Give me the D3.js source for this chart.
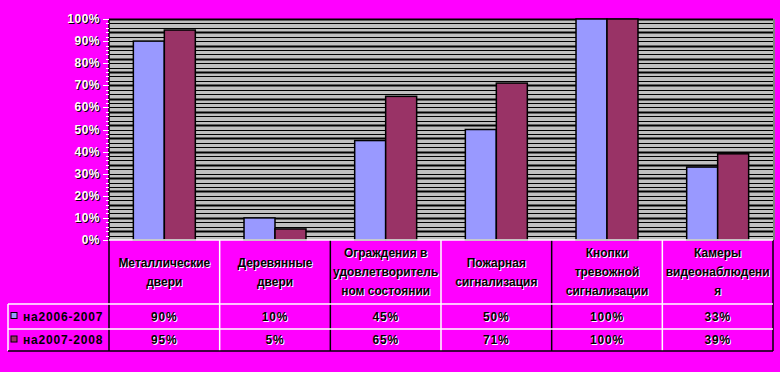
<!DOCTYPE html>
<html lang="ru">
<head>
<meta charset="UTF-8">
<title>Безопасность</title>
<script src="https://cdn.jsdelivr.net/npm/d3@7"></script>
<style>
  body { margin: 0; background: #ff00ff; }
  #chart text { font-family: "Liberation Sans", Arial, sans-serif; font-weight: bold; font-size: 12px; }
</style>
</head>
<body>
<div id="chart"></div>
<script>
// data
var categories = [
  ["Металлические", "двери"],
  ["Деревянные", "двери"],
  ["Ограждения в", "удовлетворитель", "ном состоянии"],
  ["Пожарная", "сигнализация"],
  ["Кнопки", "тревожной", "сигнализации"],
  ["Камеры", "видеонаблюдени", "я"]
];
var seriesNames = ["на2006-2007", "на2007-2008"];
var s2006 = [90, 10, 45, 50, 100, 33];
var s2007 = [95, 5, 65, 71, 100, 39];
var yTicks = [0, 10, 20, 30, 40, 50, 60, 70, 80, 90, 100];
var colors = ["#9999ff", "#993366"];

var W = 780, H = 372;
var plotL = 109, plotR = 773, plotT = 19, plotB = 240;
var rowY = [240, 304, 329, 351];

var svg = d3.select("#chart").append("svg").attr("width", W).attr("height", H);
svg.append("rect").attr("width", W).attr("height", H).attr("fill", "#ff00ff");

var x = d3.scaleBand().domain(d3.range(categories.length)).range([plotL, plotR]);
var y = d3.scaleLinear().domain([0, 100]).range([plotB, plotT]);

// plot area
svg.append("rect").attr("x", plotL).attr("y", plotT).attr("width", plotR - plotL).attr("height", plotB - plotT)
  .attr("fill", "#c0c0c0");
svg.append("line").attr("x1", plotR + 1).attr("x2", plotR + 1).attr("y1", plotT).attr("y2", plotB)
  .attr("stroke", "#808080").attr("stroke-width", 2);

// dense gridlines every 2%
var minor = d3.range(2, 101, 2);
svg.selectAll(".grid").data(minor).enter().append("line")
  .attr("x1", plotL).attr("x2", plotR)
  .attr("y1", function(d) { return Math.round(y(d)) + 0.5; })
  .attr("y2", function(d) { return Math.round(y(d)) + 0.5; })
  .attr("stroke", "#000")
  .attr("stroke-width", function(d, i) { return i % 3 == 1 ? 2 : 1; });

// bars
var bw = x.bandwidth() * 0.28;
var series = [s2006, s2007];
series.forEach(function(s, k) {
  svg.selectAll(".bar" + k).data(s).enter().append("rect")
    .attr("x", function(d, i) { return x(i) + x.bandwidth() / 2 - bw + k * bw; })
    .attr("y", function(d) { return y(d); })
    .attr("width", bw)
    .attr("height", function(d) { return plotB - y(d); })
    .attr("fill", colors[k])
    .attr("stroke", "#000")
    .attr("stroke-width", 1.5);
});

// y axis
var yAxis = svg.append("g").attr("transform", "translate(" + plotL + ",0)");
yAxis.append("line").attr("x1", 0).attr("x2", 0).attr("y1", plotT).attr("y2", plotB)
  .attr("stroke", "#000").attr("stroke-width", 1.5);
yAxis.selectAll(".mt").data(minor).enter().append("line")
  .attr("x1", -3).attr("x2", 0)
  .attr("y1", function(d) { return Math.round(y(d)) + 0.5; })
  .attr("y2", function(d) { return Math.round(y(d)) + 0.5; })
  .attr("stroke", "#fff");
yAxis.selectAll(".tk").data(yTicks).enter().append("line")
  .attr("x1", -6).attr("x2", 0)
  .attr("y1", function(d) { return Math.round(y(d)) + 0.5; })
  .attr("y2", function(d) { return Math.round(y(d)) + 0.5; })
  .attr("stroke", "#fff");

function shadowText(g, tx, ty, str, anchor, fg, bg, ls) {
  g.append("text").attr("x", tx + 1).attr("y", ty + 1).attr("text-anchor", anchor)
    .attr("letter-spacing", ls || 0).attr("fill", bg).text(str);
  g.append("text").attr("x", tx).attr("y", ty).attr("text-anchor", anchor)
    .attr("letter-spacing", ls || 0).attr("fill", fg).text(str);
}

yTicks.forEach(function(t) {
  shadowText(yAxis, -9, y(t) + 4, t + "%", "end", "#fff", "#000", "0.5px");
});

// data table
var table = svg.append("g");
var colEdges = x.domain().map(function(i) { return x(i); }).concat([plotR]);
var blackCols = [0, 2, 4, 6];
colEdges.forEach(function(cx, i) {
  table.append("line").attr("x1", cx).attr("x2", cx)
    .attr("y1", rowY[0]).attr("y2", rowY[3])
    .attr("stroke", blackCols.indexOf(i) >= 0 ? "#000" : "#fff").attr("stroke-width", 1.5);
});
[rowY[1], rowY[2]].forEach(function(ry) {
  table.append("line").attr("x1", 8).attr("x2", plotR).attr("y1", ry).attr("y2", ry)
    .attr("stroke", "#fff").attr("stroke-width", 1.5);
});
table.append("line").attr("x1", 8).attr("x2", 8).attr("y1", rowY[1]).attr("y2", rowY[3])
  .attr("stroke", "#fff").attr("stroke-width", 1.5);
table.append("line").attr("x1", 8).attr("x2", plotR).attr("y1", rowY[3]).attr("y2", rowY[3])
  .attr("stroke", "#000").attr("stroke-width", 1.5);
table.append("line").attr("x1", plotL).attr("x2", plotR).attr("y1", rowY[0]).attr("y2", rowY[0])
  .attr("stroke", "#fff").attr("stroke-width", 1.5);

// category labels
categories.forEach(function(lines, i) {
  var cx = x(i) + x.bandwidth() / 2;
  var mid = (rowY[0] + rowY[1]) / 2;
  var y0 = mid - (lines.length - 1) * 19 / 2 + 4;
  lines.forEach(function(l, j) {
    shadowText(table, cx, y0 + j * 19, l, "middle", "#000", "#fff");
  });
});

// series rows
series.forEach(function(s, k) {
  var ry = (rowY[k + 1] + rowY[k + 2]) / 2 + 4;
  table.append("rect").attr("x", 11).attr("y", ry - 8).attr("width", 6).attr("height", 6)
    .attr("fill", colors[k]).attr("stroke", "#000").attr("stroke-width", 1);
  table.append("text").attr("x", 23).attr("y", ry).attr("fill", "#000")
    .attr("letter-spacing", "0.8px").text(seriesNames[k]);
  s.forEach(function(v, i) {
    shadowText(table, x(i) + x.bandwidth() / 2, ry, v + "%", "middle", "#000", "#fff", "0.8px");
  });
});
</script>
</body>
</html>
